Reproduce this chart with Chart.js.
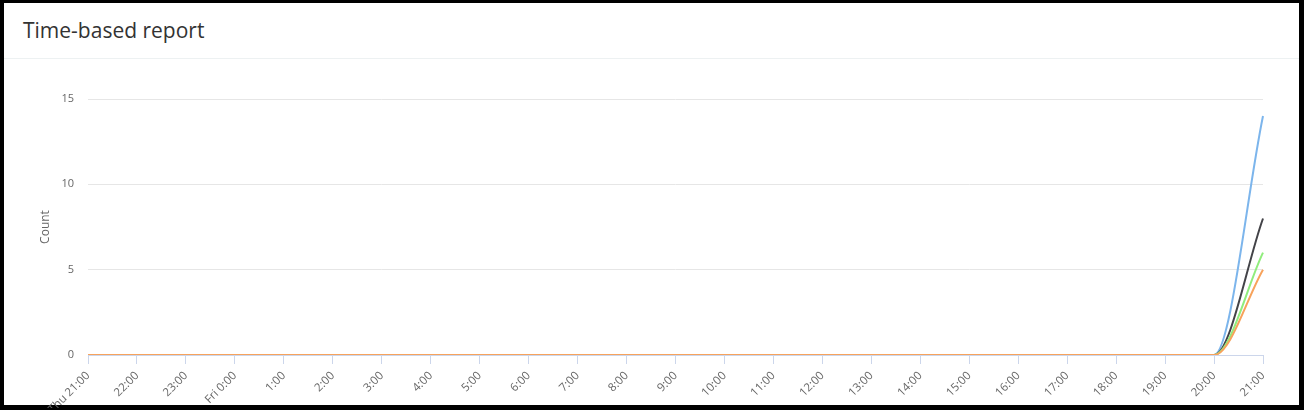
<!DOCTYPE html>
<html>
<head>
<meta charset="utf-8">
<script src="https://cdn.jsdelivr.net/npm/chart.js@4/dist/chart.umd.min.js"></script>
<style>
  html, body { margin: 0; padding: 0; background: #000; width: 1304px; height: 410px; overflow: hidden; }
  #panel { position: absolute; left: 4px; top: 3px; width: 1295px; height: 402px; background: #fff; }
  #title { position: absolute; left: 19px; top: 13px; font-family: "Open Sans", sans-serif; font-size: 21px; color: #333; line-height: 28px; }
  #sep { position: absolute; left: 0; top: 55px; width: 1295px; height: 1px; background: #edf1f2; }
  #chart { position: absolute; left: 0; top: 56px; }
</style>
</head>
<body>
<div id="panel">
  <div id="title">Time-based report</div>
  <div id="sep"></div>
  <canvas id="chart" width="1295" height="349"></canvas>
</div>
<script>
const categories = ["Thu 21:00", "22:00", "23:00", "Fri 0:00", "1:00", "2:00", "3:00", "4:00", "5:00", "6:00", "7:00", "8:00", "9:00", "10:00", "11:00", "12:00", "13:00", "14:00", "15:00", "16:00", "17:00", "18:00", "19:00", "20:00", "21:00"];
const seriesBlue   = [0, 0, 0, 0, 0, 0, 0, 0, 0, 0, 0, 0, 0, 0, 0, 0, 0, 0, 0, 0, 0, 0, 0, 0, 14];
const seriesBlack  = [0, 0, 0, 0, 0, 0, 0, 0, 0, 0, 0, 0, 0, 0, 0, 0, 0, 0, 0, 0, 0, 0, 0, 0, 8];
const seriesGreen  = [0, 0, 0, 0, 0, 0, 0, 0, 0, 0, 0, 0, 0, 0, 0, 0, 0, 0, 0, 0, 0, 0, 0, 0, 6];
const seriesOrange = [0, 0, 0, 0, 0, 0, 0, 0, 0, 0, 0, 0, 0, 0, 0, 0, 0, 0, 0, 0, 0, 0, 0, 0, 5];
const seriesNames = ["Series 1", "Series 2", "Series 3", "Series 4"];
const yTicks = [0, 5, 10, 15];
const yTitle = "Count";

const font = "'Open Sans', sans-serif";
function ds(label, data, color) {
  return { label, data, borderColor: color, backgroundColor: color, borderWidth: 2,
           pointRadius: 0, pointHoverRadius: 0, fill: false, cubicInterpolationMode: 'monotone' };
}

new Chart(document.getElementById('chart'), {
  type: 'line',
  data: {
    labels: categories,
    datasets: [
      ds(seriesNames[3], seriesOrange, '#f7a35c'),
      ds(seriesNames[2], seriesGreen, '#90ed7d'),
      ds(seriesNames[1], seriesBlack, '#434348'),
      ds(seriesNames[0], seriesBlue, '#7cb5ec')
    ]
  },
  options: {
    responsive: false,
    animation: false,
    layout: { padding: { left: 0, right: 36, top: 40, bottom: 0 } },
    plugins: { legend: { display: false }, tooltip: { enabled: false } },
    scales: {
      x: {
        type: 'category',
        offset: false,
        grid: { display: true, drawOnChartArea: false, drawTicks: true, tickLength: 9, color: '#ccd6eb' },
        border: { display: true, color: '#ccd6eb', width: 1 },
        ticks: { autoSkip: false, minRotation: 45, maxRotation: 45, padding: 5, color: '#666666',
                 font: { family: font, size: 11.5 } },
        afterFit: s => { s.height = 53; }
      },
      y: {
        min: 0, max: 15,
        afterBuildTicks: s => { s.ticks = yTicks.map(v => ({ value: v })); },
        grid: { color: '#e6e6e6', drawTicks: false },
        border: { display: false },
        ticks: { padding: 14, color: '#666666', font: { family: font, size: 11 } },
        title: { display: true, text: yTitle, color: '#666666', padding: { top: 34, bottom: 0 },
                 font: { family: font, size: 12 } },
        afterFit: s => { s.width = 84; }
      }
    }
  }
});
</script>
</body>
</html>
